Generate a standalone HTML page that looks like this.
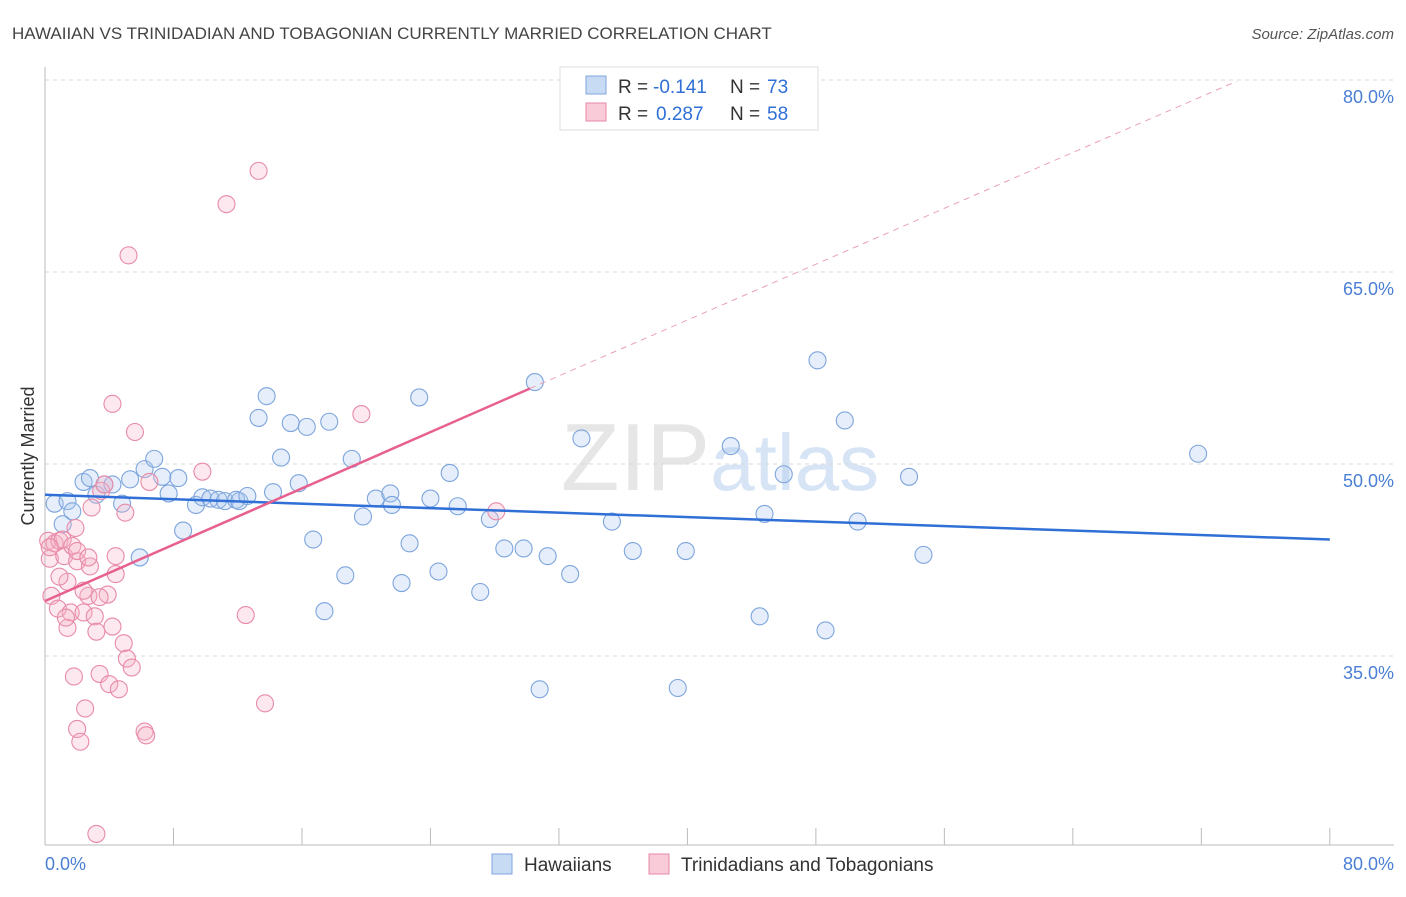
<!DOCTYPE html>
<html><head><meta charset="utf-8"><style>
body{margin:0;background:#fff;font-family:"Liberation Sans",sans-serif}
svg text{font-family:"Liberation Sans",sans-serif}
</style></head><body>
<svg id="chart" width="1406" height="892" xmlns="http://www.w3.org/2000/svg">
<text x="12" y="39" font-size="17" fill="#444">HAWAIIAN VS TRINIDADIAN AND TOBAGONIAN CURRENTLY MARRIED CORRELATION CHART</text>
<text x="1394" y="39" font-size="15" fill="#555" text-anchor="end" font-style="italic">Source: ZipAtlas.com</text>
<text x="720" y="490" font-size="96" fill="#e6e6e6" text-anchor="middle" font-family="Liberation Serif">ZIP<tspan fill="#d6e4f5" font-family="Liberation Sans" font-size="80">atlas</tspan></text>
<g id="grid"></g>
<g id="axes"></g>
<g id="points"></g>
<g id="trends"></g>
<text transform="translate(34,456) rotate(-90)" font-size="18" fill="#333" text-anchor="middle">Currently Married</text>
<text x="45" y="870" font-size="18" fill="#4a7fd4">0.0%</text>
<text x="1394" y="870" font-size="18" fill="#4a7fd4" text-anchor="end">80.0%</text>
<g>
<rect x="560" y="67" width="258" height="63" fill="#fff" stroke="#ddd"/>
<rect x="586" y="76" width="20" height="18" fill="#c7dbf5" stroke="#7da5dd"/>
<text x="618" y="93" font-size="19" fill="#333">R =</text>
<text x="653" y="93" font-size="19" fill="#2f6fd6">-0.141</text>
<text x="730" y="93" font-size="19" fill="#333">N =</text>
<text x="767" y="93" font-size="19" fill="#2f6fd6">73</text>
<rect x="586" y="103" width="20" height="18" fill="#f9cad8" stroke="#e68aa8"/>
<text x="618" y="120" font-size="19" fill="#333">R =</text>
<text x="656" y="120" font-size="19" fill="#2f6fd6">0.287</text>
<text x="730" y="120" font-size="19" fill="#333">N =</text>
<text x="767" y="120" font-size="19" fill="#2f6fd6">58</text>
</g>
<g>
<rect x="492" y="854" width="20" height="20" fill="#c7dbf5" stroke="#7da5dd"/>
<text x="524" y="871" font-size="19" fill="#333">Hawaiians</text>
<rect x="649" y="854" width="20" height="20" fill="#f9cad8" stroke="#e68aa8"/>
<text x="681" y="871" font-size="19" fill="#333">Trinidadians and Tobagonians</text>
</g>
</svg>
<script>
const yTicks=[80,65,50,35];
const blueX=[0.6,1.1,1.4,1.7,2.4,2.8,3.2,3.7,4.2,4.8,5.3,5.9,6.2,6.8,7.3,7.7,8.3,8.6,9.4,9.8,10.3,10.8,11.2,11.9,12.1,12.6,13.3,13.8,14.2,14.7,15.3,15.8,16.3,16.7,17.4,17.7,18.7,19.1,19.8,20.6,21.5,21.6,22.2,22.7,23.3,24.0,24.5,25.2,25.7,27.1,27.7,28.6,29.8,30.5,30.8,31.3,32.7,33.4,35.3,36.6,39.4,39.9,42.7,44.5,44.8,46.0,48.1,48.6,49.8,50.6,53.8,54.7,71.8];
const blueY=[46.9,45.3,47.1,46.3,48.6,48.9,47.6,48.4,48.4,46.9,48.8,42.7,49.6,50.4,49.0,47.7,48.9,44.8,46.8,47.4,47.3,47.2,47.1,47.2,47.1,47.5,53.6,55.3,47.8,50.5,53.2,48.5,52.9,44.1,38.5,53.3,41.3,50.4,45.9,47.3,47.7,46.8,40.7,43.8,55.2,47.3,41.6,49.3,46.7,40.0,45.7,43.4,43.4,56.4,32.4,42.8,41.4,52.0,45.5,43.2,32.5,43.2,51.4,38.1,46.1,49.2,58.1,37.0,53.4,45.5,49.0,42.9,50.8];
const pinkX=[0.2,0.3,0.4,0.6,0.8,0.9,1.1,1.2,1.4,1.4,1.6,1.7,1.8,1.9,2.0,2.0,2.2,2.4,2.5,2.7,2.8,2.9,3.1,3.2,3.4,3.5,3.7,3.9,4.0,4.2,4.4,4.4,4.6,4.9,5.0,5.1,5.2,5.4,5.6,6.2,6.3,6.5,9.8,11.3,12.5,13.3,13.7,19.7,28.1,3.2,0.9,2.0,0.3,2.7,3.4,4.2,2.4,1.3];
const pinkY=[44.0,42.6,39.7,43.8,38.7,44.0,44.1,42.8,40.8,37.2,38.4,43.6,33.4,45.0,42.4,29.3,28.3,38.4,30.9,39.7,42.0,46.6,38.1,36.9,33.6,47.9,48.4,39.8,32.8,54.7,42.8,41.4,32.4,36.0,46.2,34.8,66.3,34.1,52.5,29.1,28.8,48.6,49.4,70.3,38.2,72.9,31.3,53.9,46.3,21.1,41.2,43.2,43.5,42.7,39.6,37.3,40.1,38.0];
const blueTrend=[[0,47.6],[80,44.1]];
const pinkTrend=[[0,39.3],[30.2,55.9]];
const pinkDash=[[30.2,55.9],[74.2,79.9]];
const X=v=>45+v*16.06;
const Y=v=>80+(80-v)*12.8;
const NS="http://www.w3.org/2000/svg";
function mk(t,a,p){const e=document.createElementNS(NS,t);for(const k in a)e.setAttribute(k,a[k]);p.appendChild(e);return e;}
const grid=document.getElementById('grid');
yTicks.forEach(t=>{
const l=mk('line',{x1:45,x2:1394,y1:Y(t),y2:Y(t),stroke:'#d8d8d8','stroke-dasharray':'4,4'},grid);


const tx=mk('text',{x:1394,y:Y(t)+23,'font-size':18,fill:'#4a7fd4','text-anchor':'end'},grid);
tx.textContent=t.toFixed(1)+'%';


});
const axes=document.getElementById('axes');
const ya=mk('line',{x1:45,x2:45,y1:67,y2:845,stroke:'#bbb'},axes);


const xa=mk('line',{x1:45,x2:1394,y1:845,y2:845,stroke:'#bbb'},axes);


for(let i=0;i<=10;i++){const t=mk('line',{x1:X(i*8),x2:X(i*8),y1:828,y2:845,stroke:'#bbb'},axes);

}
const pts=document.getElementById('points');
blueX.forEach((x,i)=>{const c=mk('circle',{cx:X(x),cy:Y(blueY[i]),r:8.5,fill:'rgba(170,200,240,0.3)',stroke:'#7da5dd','stroke-width':1.1},pts);

});
pinkX.forEach((x,i)=>{const c=mk('circle',{cx:X(x),cy:Y(pinkY[i]),r:8.5,fill:'rgba(245,180,200,0.3)',stroke:'#e88aa8','stroke-width':1.1},pts);

});
const tr=document.getElementById('trends');
const b=mk('line',{x1:X(blueTrend[0][0]),y1:Y(blueTrend[0][1]),x2:X(blueTrend[1][0]),y2:Y(blueTrend[1][1]),stroke:'#2f6fd6','stroke-width':2.5},tr);


const p=mk('line',{x1:X(pinkTrend[0][0]),y1:Y(pinkTrend[0][1]),x2:X(pinkTrend[1][0]),y2:Y(pinkTrend[1][1]),stroke:'#e8608f','stroke-width':2.5},tr);


const d=mk('line',{x1:X(pinkDash[0][0]),y1:Y(pinkDash[0][1]),x2:X(pinkDash[1][0]),y2:Y(pinkDash[1][1]),stroke:'#eaa0b8','stroke-width':1,'stroke-dasharray':'6,5'},tr);


</script>
</body></html>
